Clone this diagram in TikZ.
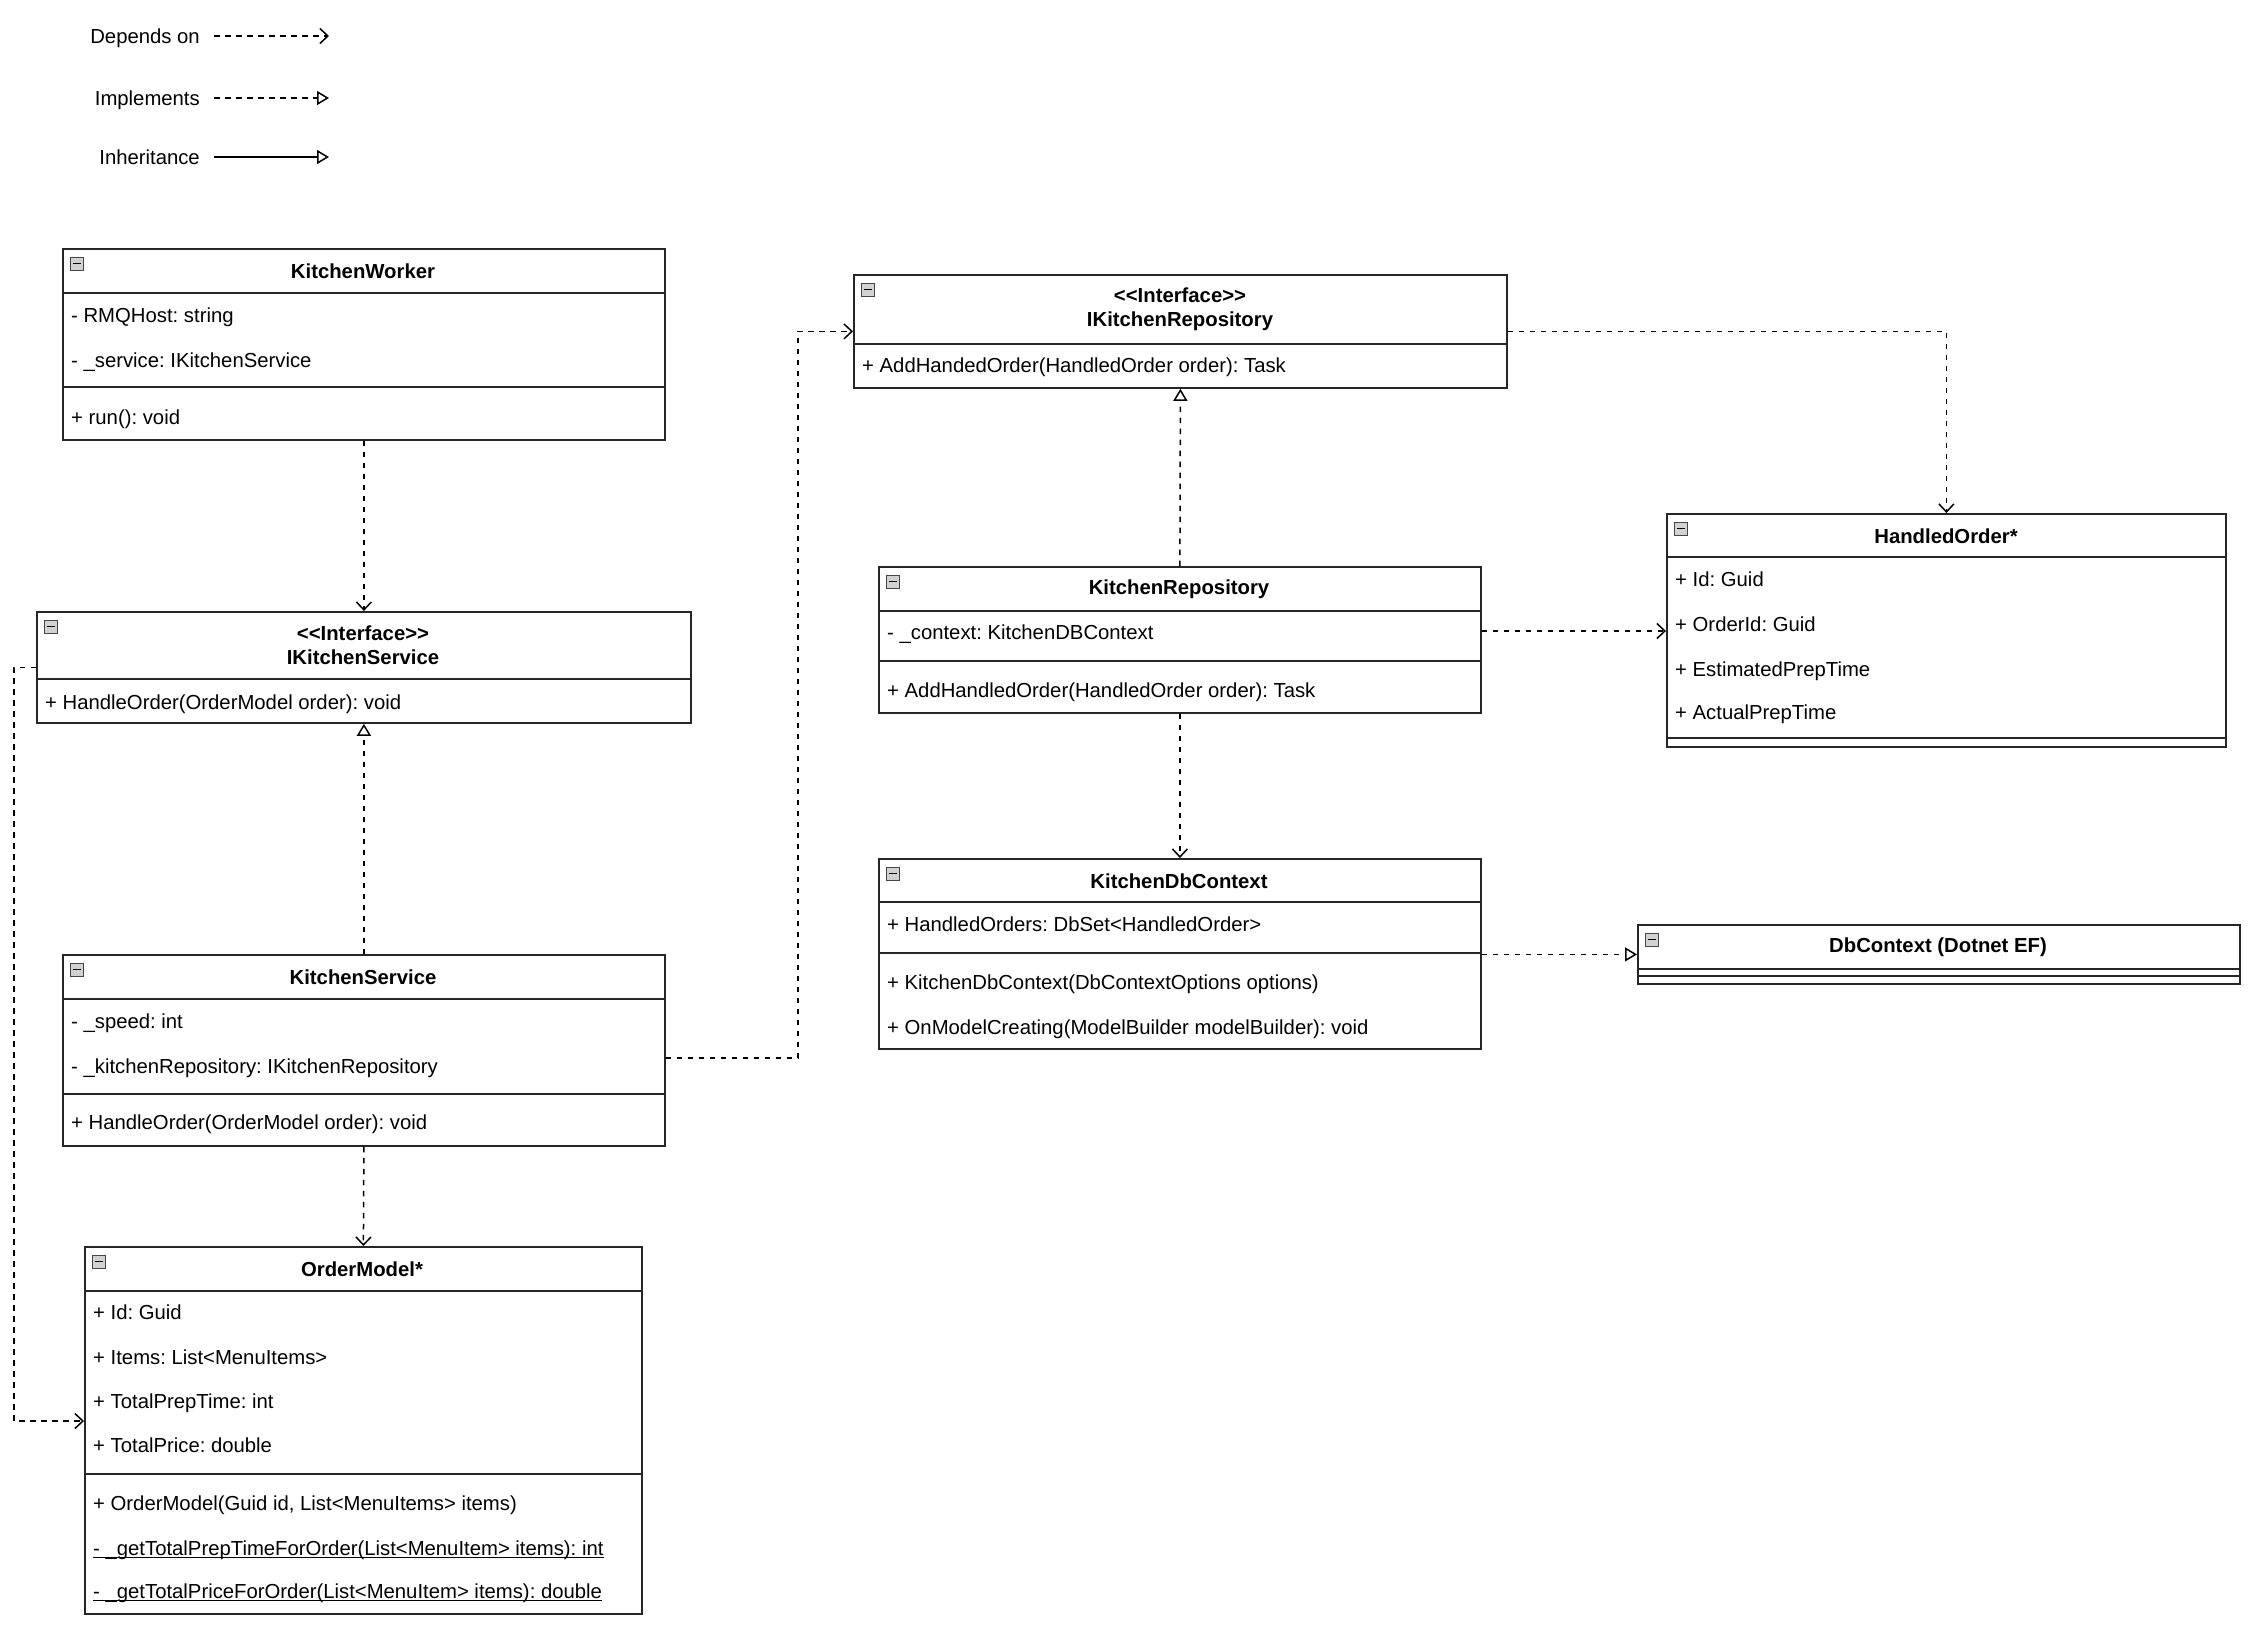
\documentclass[tikz,border=0pt]{standalone}
\usepackage{fontspec}
\setmainfont{Liberation Sans}[Ligatures=TeXOff]
\usetikzlibrary{arrows.meta,calc}
\frenchspacing
\newcommand\ulntext[1]{\setbox0\hbox{#1}\rlap{\rule[-2.8pt]{\wd0}{1.3pt}}\box0}
\newcommand\clsicon[1]{%
  \draw[fill=gray!35, draw=gray!55!black, line width=0.9pt] ($(#1.north west)+(8,9)$) rectangle ++(13,13);
  \draw[line width=1.8pt] ($(#1.north west)+(10.5,15.5)$) -- ++(8,0);}
\tikzset{
  cls/.style={draw=black!85, line width=1.8pt, anchor=north west, inner sep=0pt, rectangle},
  sepl/.style={line width=1.8pt, draw=black!85},
  attr/.style={anchor=base west, inner sep=0pt, font=\fontsize{20.3}{24.4}\selectfont\frenchspacing},
  ttl/.style={inner sep=0pt, font=\fontsize{20.3}{24.5}\selectfont\bfseries\frenchspacing, align=center},
  leg/.style={anchor=base east, inner sep=0pt, font=\fontsize{20.3}{24.4}\selectfont},
  dep/.style={line width=1.5pt, dash pattern=on 5.5pt off 5.5pt, -{Straight Barb[length=8pt,width=15pt,line width=1.5pt]}},
  impl/.style={line width=1.5pt, dash pattern=on 5.5pt off 5.5pt, -{Triangle[open,length=12pt,width=14pt,line width=1.5pt]}},
  inh/.style={line width=1.5pt, -{Triangle[open,length=12pt,width=14pt,line width=1.5pt]}}
}
\begin{document}
\begin{tikzpicture}[x=1pt,y=-1pt]
\fill[white] (0,0) rectangle (2264,1642);
\useasboundingbox (0,0) rectangle (2264,1642);

% Legend
\node[leg] (lg1) at (200,43) {Depends on};
\node[leg] (lg2) at (200,105) {Implements};
\node[leg] (lg3) at (200,164) {Inheritance};
\coordinate (lg1a) at (214,36); \coordinate (lg1b) at (329,36);
\coordinate (lg2a) at (214,98); \coordinate (lg2b) at (329,98);
\coordinate (lg3a) at (214,157); \coordinate (lg3b) at (329,157);
\draw[dep] (lg1a) -- (lg1b);
\draw[impl] (lg2a) -- (lg2b);
\draw[inh] (lg3a) -- (lg3b);

% KitchenWorker
\node[cls, minimum width=602pt, minimum height=191pt] (kw) at (62,248) {};
\draw[sepl] (62,293) -- (664,293);
\draw[sepl] (62,387) -- (664,387);
\clsicon{kw}
\node[ttl] (kwt) at (363,271) {KitchenWorker};
\node[attr] (kw1) at (71,322) {- RMQHost: string};
\node[attr] (kw2) at (71,367) {- \_service: IKitchenService};
\node[attr] (kw3) at (71,424) {+ run(): void};

% IKitchenService
\node[cls, minimum width=654pt, minimum height=111pt] (iks) at (36,611) {};
\draw[sepl] (36,679) -- (690,679);
\clsicon{iks}
\node[ttl] (ikst) at (363,645) {<<Interface>>\\IKitchenService};
\node[attr] (iks1) at (45,709) {+ HandleOrder(OrderModel order): void};

% KitchenService
\node[cls, minimum width=602pt, minimum height=191pt] (ks) at (62,954) {};
\draw[sepl] (62,999) -- (664,999);
\draw[sepl] (62,1094) -- (664,1094);
\clsicon{ks}
\node[ttl] (kst) at (363,977) {KitchenService};
\node[attr] (ks1) at (71,1028) {- \_speed: int};
\node[attr] (ks2) at (71,1073) {- \_kitchenRepository: IKitchenRepository};
\node[attr] (ks3) at (71,1129) {+ HandleOrder(OrderModel order): void};

% OrderModel
\node[cls, minimum width=557pt, minimum height=367pt] (om) at (84,1246) {};
\draw[sepl] (84,1291) -- (641,1291);
\draw[sepl] (84,1474) -- (641,1474);
\clsicon{om}
\node[ttl] (omt) at (362,1269) {OrderModel*};
\node[attr] (om1) at (93,1319) {+ Id: Guid};
\node[attr] (om2) at (93,1364) {+ Items: List<MenuItems>};
\node[attr] (om3) at (93,1408) {+ TotalPrepTime: int};
\node[attr] (om4) at (93,1452) {+ TotalPrice: double};
\node[attr] (om5) at (93,1510) {+ OrderModel(Guid id, List<MenuItems> items)};
\node[attr] (om6) at (93,1555) {\ulntext{- \_getTotalPrepTimeForOrder(List<MenuItem> items): int}};
\node[attr] (om7) at (93,1598) {\ulntext{- \_getTotalPriceForOrder(List<MenuItem> items): double}};

% IKitchenRepository
\node[cls, minimum width=653pt, minimum height=113pt] (ikr) at (853,274) {};
\draw[sepl] (853,344) -- (1506,344);
\clsicon{ikr}
\node[ttl] (ikrt) at (1180,309) {<<Interface>>\\IKitchenRepository};
\node[attr] (ikr1) at (862,372) {+ AddHandedOrder(HandledOrder order): Task};

% KitchenRepository
\node[cls, minimum width=602pt, minimum height=146pt] (kr) at (878,566) {};
\draw[sepl] (878,611) -- (1480,611);
\draw[sepl] (878,661) -- (1480,661);
\clsicon{kr}
\node[ttl] (krt) at (1179,589) {KitchenRepository};
\node[attr] (kr1) at (887,639) {- \_context: KitchenDBContext};
\node[attr] (kr2) at (887,697) {+ AddHandledOrder(HandledOrder order): Task};

% KitchenDbContext
\node[cls, minimum width=602pt, minimum height=190pt] (kdc) at (878,858) {};
\draw[sepl] (878,902) -- (1480,902);
\draw[sepl] (878,953) -- (1480,953);
\clsicon{kdc}
\node[ttl] (kdct) at (1179,881) {KitchenDbContext};
\node[attr] (kdc1) at (887,931) {+ HandledOrders: DbSet<HandledOrder>};
\node[attr] (kdc2) at (887,989) {+ KitchenDbContext(DbContextOptions options)};
\node[attr] (kdc3) at (887,1034) {+ OnModelCreating(ModelBuilder modelBuilder): void};

% HandledOrder
\node[cls, minimum width=559pt, minimum height=233pt] (ho) at (1666,513) {};
\draw[sepl] (1666,557) -- (2225,557);
\draw[sepl] (1666,738) -- (2225,738);
\clsicon{ho}
\node[ttl] (hot) at (1946,536) {HandledOrder*};
\node[attr] (ho1) at (1675,586) {+ Id: Guid};
\node[attr] (ho2) at (1675,631) {+ OrderId: Guid};
\node[attr] (ho3) at (1675,676) {+ EstimatedPrepTime};
\node[attr] (ho4) at (1675,719) {+ ActualPrepTime};

% DbContext
\node[cls, minimum width=602pt, minimum height=59pt] (dbc) at (1637,924) {};
\draw[sepl] (1637,969) -- (2239,969);
\draw[sepl] (1637,976) -- (2239,976);
\clsicon{dbc}
\node[ttl] (dbct) at (1938,947) {DbContext (Dotnet EF)};

% Connectors
\draw[dep] (kw.south) -- (iks.north);
\draw[impl] (ks.north) -- (iks.south);
\draw[dep] (ks.south) -- (om.north);
\draw[dep] (iks.west) -- ++(-22,0) |- ($(om.north west)+(0,175)$);
\draw[dep] ($(ks.north east)+(0,104)$) -- ++(132,0) |- (ikr.west);
\draw[dep] (ikr.east) -| (ho.north);
\draw[impl] (kr.north) -- (ikr.south);
\draw[dep] ($(kr.north east)+(0,65)$) coordinate (krh) -- (krh -| ho.west);
\draw[dep] (kr.south) -- (kdc.north);
\draw[impl] (dbc.west -| kdc.east) -- (dbc.west);
\end{tikzpicture}
\end{document}
